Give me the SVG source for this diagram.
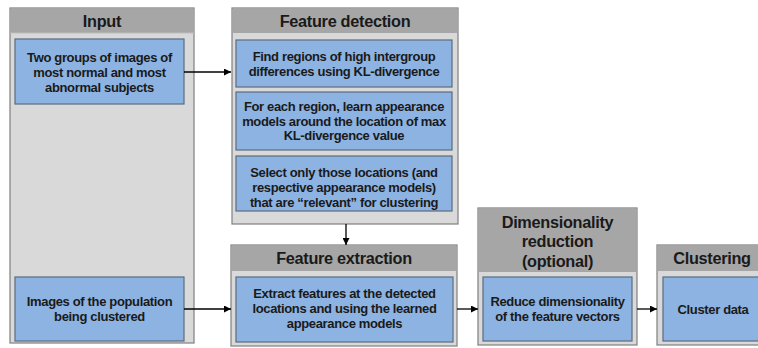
<svg xmlns="http://www.w3.org/2000/svg" width="758" height="348" viewBox="0 0 758 348">
<defs>
<style>
.panel{fill:#d9d9d9;stroke:#7f7f7f;stroke-width:1.2}
.head{fill:#a6a6a6;stroke:none}
.box{fill:#8db3e2;stroke:#5a6b7e;stroke-width:1.2}
.ht{font-family:"Liberation Sans",Arial,sans-serif;font-weight:bold;font-size:16.3px;letter-spacing:-0.3px;fill:#1a1a1a;text-anchor:middle}
.bt{font-family:"Liberation Sans",Arial,sans-serif;font-weight:bold;font-size:13px;letter-spacing:-0.35px;fill:#1a1a1a;text-anchor:middle}
.conn{stroke:#000;stroke-width:1.3;fill:none;marker-end:url(#ah)}
</style>
<marker id="ah" viewBox="0 0 10 10" refX="10" refY="5" markerWidth="7" markerHeight="7" markerUnits="userSpaceOnUse" orient="auto">
<path d="M0,0 L10,5 L0,10 Z" fill="#000"/>
</marker>
</defs>
<rect width="758" height="348" fill="#fff"/>

<g id="input">
<rect class="panel" x="10" y="8" width="184" height="335"/>
<rect class="head" x="10.6" y="8.6" width="182.8" height="24.4"/>
<line x1="10" y1="33" x2="194" y2="33" stroke="#bfbfbf" stroke-width="1"/>
<text class="ht" x="102" y="26.5">Input</text>
<rect class="box" x="15" y="39" width="169" height="65"/>
<text class="bt"><tspan x="99.5" y="61.5">Two groups of images of</tspan><tspan x="99.5" y="76.5">most normal and most</tspan><tspan x="99.5" y="91.5">abnormal subjects</tspan></text>
<rect class="box" x="15" y="277" width="169" height="64"/>
<text class="bt"><tspan x="99.5" y="306">Images of the population</tspan><tspan x="99.5" y="321">being clustered</tspan></text>
</g>

<g id="feature-detection">
<rect class="panel" x="232" y="8" width="226" height="216"/>
<rect class="head" x="232.6" y="8.6" width="224.8" height="24.4"/>
<text class="ht" x="345" y="26.5">Feature detection</text>
<rect class="box" x="236" y="40" width="216" height="47"/>
<text class="bt"><tspan x="344" y="61">Find regions of high intergroup</tspan><tspan x="344" y="75.5">differences using KL-divergence</tspan></text>
<rect class="box" x="236" y="92" width="216" height="58"/>
<text class="bt"><tspan x="344" y="111">For each region, learn appearance</tspan><tspan x="344" y="125.5">models around the location of max</tspan><tspan x="344" y="140">KL-divergence value</tspan></text>
<rect class="box" x="236" y="156" width="216" height="55"/>
<text class="bt"><tspan x="344" y="176.5">Select only those locations (and</tspan><tspan x="344" y="191.5">respective appearance models)</tspan><tspan x="344" y="206.5">that are “relevant” for clustering</tspan></text>
</g>

<g id="feature-extraction">
<rect class="panel" x="231" y="245" width="226" height="101"/>
<rect class="head" x="231.6" y="245.6" width="224.8" height="25.4"/>
<text class="ht" x="344" y="264">Feature extraction</text>
<rect class="box" x="236" y="277" width="217" height="65"/>
<text class="bt"><tspan x="344.5" y="298">Extract features at the detected</tspan><tspan x="344.5" y="313">locations and using the learned</tspan><tspan x="344.5" y="328">appearance models</tspan></text>
</g>

<g id="dimensionality-reduction">
<rect class="panel" x="478" y="208" width="159" height="137"/>
<rect class="head" x="478.6" y="208.6" width="157.8" height="63.4"/>
<text class="ht"><tspan x="557.5" y="227.5">Dimensionality</tspan><tspan x="557.5" y="247">reduction</tspan><tspan x="557.5" y="266.5">(optional)</tspan></text>
<rect class="box" x="483" y="277" width="149" height="64"/>
<text class="bt"><tspan x="557.5" y="306">Reduce dimensionality</tspan><tspan x="557.5" y="321">of the  feature vectors</tspan></text>
</g>

<g id="clustering">
<rect class="panel" x="657" y="245" width="111" height="100"/>
<rect class="head" x="657.6" y="245.6" width="110" height="25.4"/>
<text class="ht" x="712" y="264">Clustering</text>
<rect class="box" x="663" y="277" width="100" height="64"/>
<text class="bt" x="713" y="313.5">Cluster data</text>
</g>

<g id="connectors">
<line class="conn" x1="184" y1="72" x2="231" y2="72"/>
<line class="conn" x1="346" y1="224" x2="346" y2="245"/>
<line class="conn" x1="184" y1="309" x2="231" y2="309"/>
<line class="conn" x1="457" y1="309" x2="478" y2="309"/>
<line class="conn" x1="637" y1="309" x2="657" y2="309"/>
</g>
</svg>
